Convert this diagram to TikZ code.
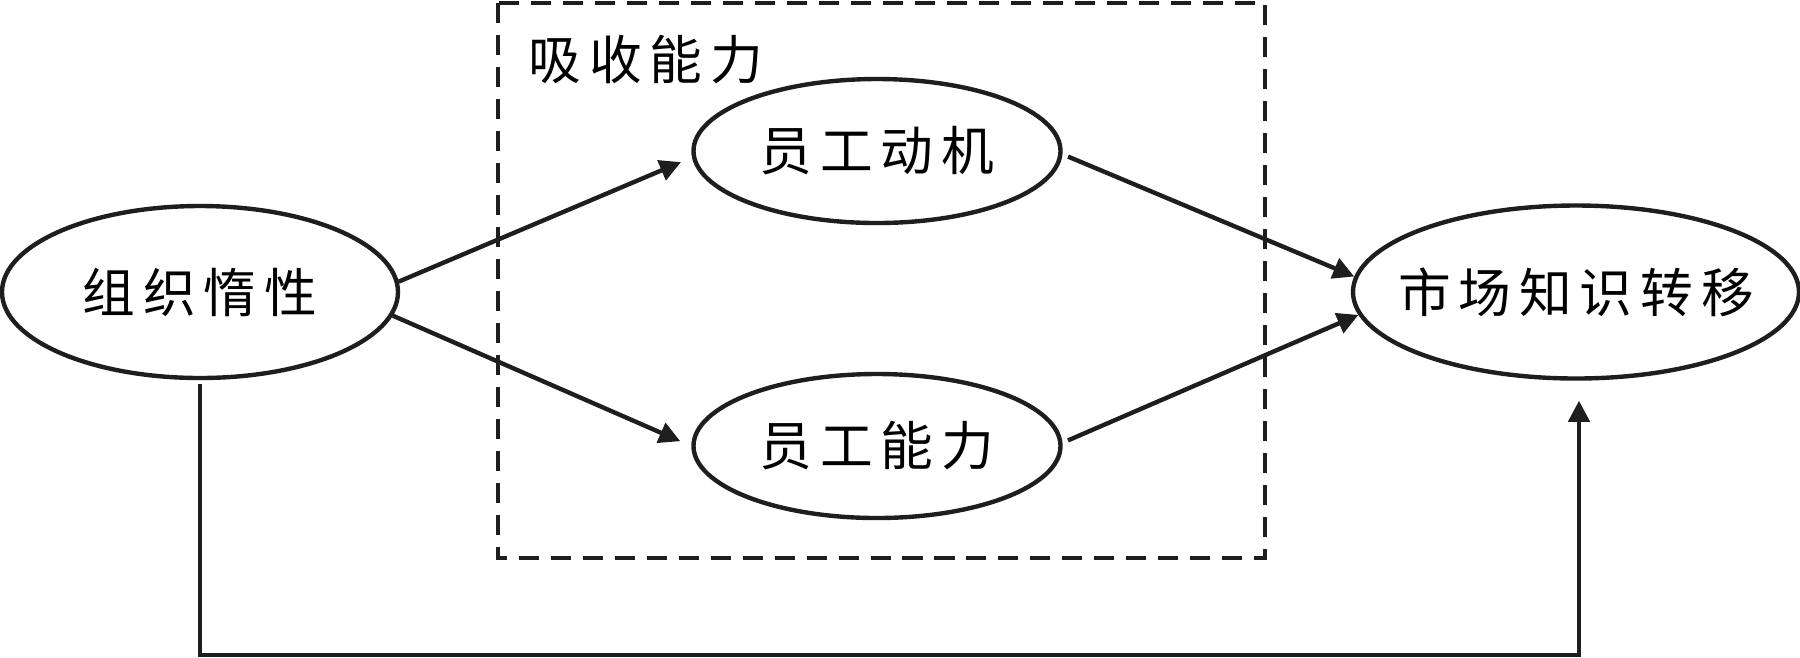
\documentclass[tikz,border=0pt]{standalone}
\usepackage{fontspec}
\usepackage{tikz}
\usetikzlibrary{shapes.geometric,arrows.meta}
\newfontfamily\cjk[LetterSpace=15]{Noto Sans CJK SC}
\definecolor{inkline}{RGB}{30,30,30}

\begin{document}
\begin{tikzpicture}[
  concept/.style={draw=inkline, line width=1.25pt, ellipse, inner sep=0pt,
    font=\cjk\fontsize{15pt}{18pt}\selectfont, text=black},
  link/.style={draw=inkline, line width=1.25pt,
    -{Triangle[length=6pt,width=6pt]}}
  ]
  \useasboundingbox (0,0) rectangle (18,-6.57);

  % Absorptive capacity frame
  \draw[inkline, line width=1.25pt, dash pattern=on 5.7pt off 3.4pt] (4.98,-0.03) rectangle (12.65,-5.58);
  \node[anchor=west, inner sep=0pt, font=\cjk\fontsize{15pt}{18pt}\selectfont] (absorb) at (5.28,-0.60) {吸收能力};

  % Variables
  \node[concept, minimum width=3.96cm, minimum height=1.72cm] (inert) at (2.00,-2.92) {组织惰性};
  \node[concept, minimum width=3.67cm, minimum height=1.44cm] (motive) at (8.77,-1.51) {员工动机};
  \node[concept, minimum width=3.67cm, minimum height=1.44cm] (ability) at (8.77,-4.46) {员工能力};
  \node[concept, inner xsep=-0.8cm, minimum width=4.46cm, minimum height=1.73cm] (transfer) at (15.76,-2.92) {市场知识转移};

  % Paths
  \draw[link, shorten >=0.12cm] (inert.3.5) -- (motive.182);
  \draw[link, shorten >=0.12cm] (inert.-7) -- (ability.west);
  \draw[link, shorten <=0.06cm] (motive.-1.2) -- (transfer.176.7);
  \draw[link, shorten <=0.06cm] (ability.1) -- (transfer.186);

  % Direct effect
  \coordinate (turn) at (15.79,-6.55);
  \draw[link, shorten <=0.04cm, shorten >=0.2cm] (inert.south) |- (turn) -- (turn |- transfer.south);
\end{tikzpicture}
\end{document}
